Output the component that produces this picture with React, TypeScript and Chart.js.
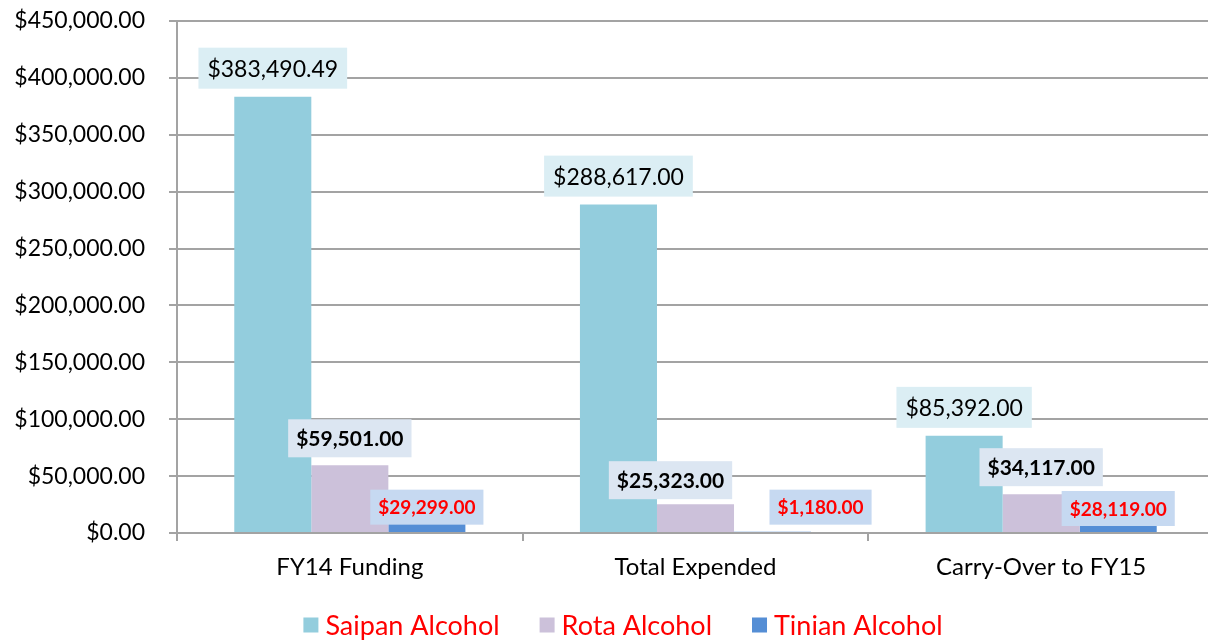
import React, { useEffect, useRef } from "react";
import { Chart, registerables } from "chart.js";

Chart.register(...registerables);

// ---------- data ----------
const categories = ["FY14 Funding", "Total Expended", "Carry-Over to FY15"];
const seriesNames = ["Saipan Alcohol", "Rota Alcohol", "Tinian Alcohol"];
const saipanValues = [383490.49, 288617.0, 85392.0];
const rotaValues = [59501.0, 25323.0, 34117.0];
const tinianValues = [29299.0, 1180.0, 28119.0];
const yMin = 0;
const yMax = 450000;
const yStep = 50000;

// ---------- styles ----------
const FONT = "Lato, 'Open Sans', 'DejaVu Sans', sans-serif";
const barColors = ["#93CDDD", "#CCC1DA", "#558ED5"];
const gridColor = "#A3A3A3";

type LabelStyle = {
  weight: string;
  size: number;
  color: string;
  bg: string;
  boxH: number;
  padX: number;
  anchor: number; // box bottom relative to bar top
  offsets: [number, number][];
};

const labelStyles: LabelStyle[] = [
  { weight: "normal", size: 23, color: "#000000", bg: "#DBEEF4", boxH: 41, padX: 9, anchor: -8, offsets: [[0, 0], [0, 0], [0, 0]] },
  { weight: "bold", size: 21, color: "#000000", bg: "#DCE6F2", boxH: 38, padX: 8, anchor: -8, offsets: [[0, 0], [-25, 3], [0, 0]] },
  { weight: "bold", size: 19, color: "#FF0000", bg: "#C6D9F1", boxH: 35, padX: 8, anchor: 25, offsets: [[0, 0], [48, -32], [0, 0]] },
];

const fmt = (v: number) =>
  "$" + v.toLocaleString("en-US", { minimumFractionDigits: 2, maximumFractionDigits: 2 });

const valueLabelPlugin = {
  id: "valueLabels",
  afterDatasetsDraw(chart: any) {
    const ctx = chart.ctx;
    chart.data.datasets.forEach((ds: any, i: number) => {
      const meta = chart.getDatasetMeta(i);
      const st = labelStyles[i];
      meta.data.forEach((bar: any, j: number) => {
        const text = fmt(ds.data[j]);
        ctx.save();
        ctx.font = `${st.weight} ${st.size}px ${FONT}`;
        const tw = ctx.measureText(text).width;
        const bw = tw + st.padX * 2;
        const [dx, dy] = st.offsets[j];
        const cx = bar.x + dx;
        const bottom = bar.y + st.anchor + dy;
        const top = bottom - st.boxH;
        ctx.fillStyle = st.bg;
        ctx.fillRect(cx - bw / 2, top, bw, st.boxH);
        ctx.fillStyle = st.color;
        ctx.textAlign = "center";
        ctx.textBaseline = "middle";
        ctx.fillText(text, cx, top + st.boxH / 2 + 1);
        ctx.restore();
      });
    });
  },
};

const legendPlugin = {
  id: "customLegend",
  afterDraw(chart: any) {
    const ctx = chart.ctx;
    const size = 27;
    const box = 15;
    const gap = 7;
    const spacing = 40;
    const centerX = 623;
    const centerY = 625;
    ctx.save();
    ctx.font = `normal ${size}px ${FONT}`;
    const items = chart.data.datasets.map((ds: any) => ({
      label: ds.label,
      color: ds.backgroundColor,
      w: ctx.measureText(ds.label).width,
    }));
    const total =
      items.reduce((s: number, it: any) => s + box + gap + it.w, 0) + spacing * (items.length - 1);
    let x = centerX - total / 2;
    items.forEach((it: any) => {
      ctx.fillStyle = it.color;
      ctx.fillRect(x, centerY - box / 2, box, box);
      x += box + gap;
      ctx.fillStyle = "#FF0000";
      ctx.textAlign = "left";
      ctx.textBaseline = "middle";
      ctx.fillText(it.label, x, centerY + 1);
      x += it.w + spacing;
    });
    ctx.restore();
  },
};

export default function App() {
  const ref = useRef<HTMLCanvasElement | null>(null);

  useEffect(() => {
    document.body.style.margin = "0";
    if (!ref.current) return;
    const chart = new Chart(ref.current, {
      type: "bar",
      data: {
        labels: categories,
        datasets: [
          { label: seriesNames[0], data: saipanValues, backgroundColor: barColors[0] },
          { label: seriesNames[1], data: rotaValues, backgroundColor: barColors[1] },
          { label: seriesNames[2], data: tinianValues, backgroundColor: barColors[2] },
        ],
      },
      options: {
        animation: false,
        responsive: false,
        maintainAspectRatio: false,
        layout: { padding: { top: 21, bottom: 61, left: 0, right: 0 } },
        datasets: {
          bar: { categoryPercentage: 0.6686, barPercentage: 1.0 },
        },
        plugins: {
          legend: { display: false },
          tooltip: { enabled: false },
          title: { display: false },
        },
        scales: {
          x: {
            grid: {
              display: true,
              drawOnChartArea: false,
              drawTicks: true,
              tickLength: 8,
              color: gridColor,
              lineWidth: 2,
              offset: true,
            },
            border: { display: true, color: gridColor, width: 2 },
            ticks: {
              color: "#000000",
              font: { family: FONT, size: 24 },
              padding: 12,
              maxRotation: 0,
            },
            afterFit: (scale: any) => {
              scale.height = 46;
              scale.paddingLeft = 0;
              scale.paddingRight = 0;
            },
          },
          y: {
            min: yMin,
            max: yMax,
            grid: {
              color: gridColor,
              lineWidth: 2,
              drawTicks: true,
              tickLength: 8,
            },
            border: { display: true, color: gridColor, width: 2 },
            ticks: {
              stepSize: yStep,
              color: "#000000",
              font: { family: FONT, size: 23 },
              padding: 24,
              callback: (v: any) => fmt(Number(v)),
            },
            afterFit: (scale: any) => {
              scale.width = 177;
              scale.paddingTop = 0;
              scale.paddingBottom = 0;
            },
          },
        },
      },
      plugins: [valueLabelPlugin, legendPlugin],
    });
    return () => chart.destroy();
  }, []);

  return (
    <div style={{ width: 1208, height: 640, overflow: "hidden", position: "relative", background: "#ffffff" }}>
      <canvas ref={ref} width={1214} height={640} style={{ display: "block", width: 1214, height: 640 }} />
    </div>
  );
}
